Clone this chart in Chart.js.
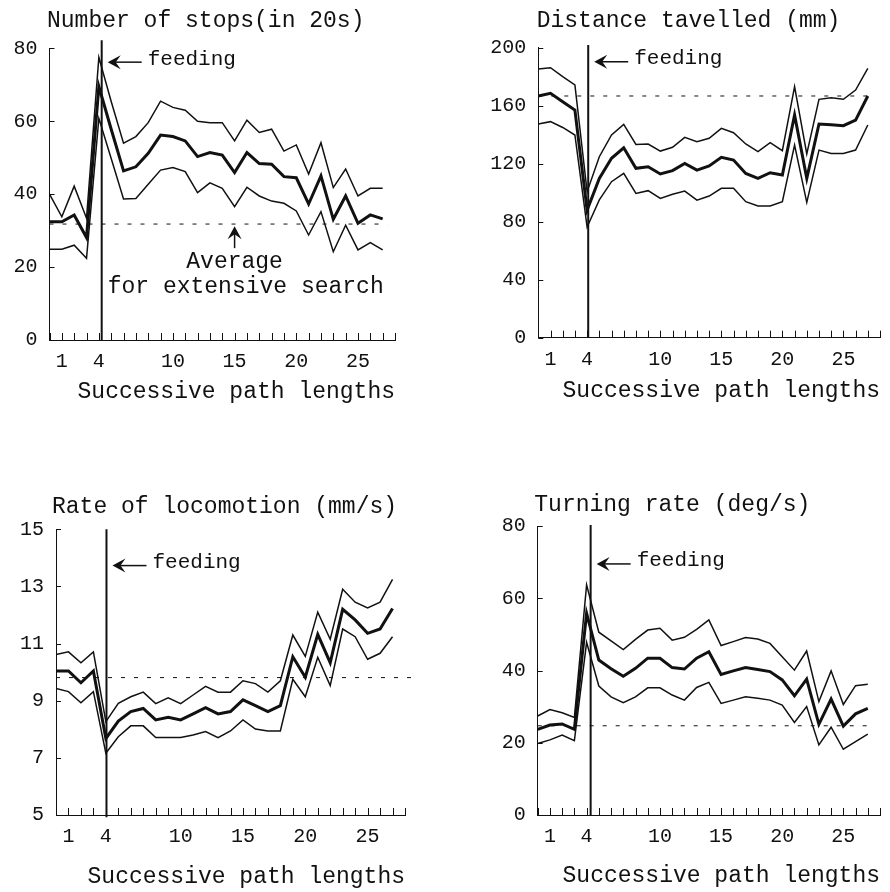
<!DOCTYPE html>
<html>
<head>
<meta charset="utf-8">
<script src="https://cdn.jsdelivr.net/npm/chart.js@4.4.1/dist/chart.umd.min.js"></script>
<style>
  html, body { margin: 0; padding: 0; background: #fff; }
  body { width: 890px; height: 892px; position: relative; overflow: hidden; }
  canvas { position: absolute; }
</style>
</head>
<body>
<canvas id="stopsChart" width="440" height="420" style="left:0;top:0"></canvas>
<canvas id="distChart" width="450" height="420" style="left:440px;top:0"></canvas>
<canvas id="rateChart" width="440" height="452" style="left:0;top:440px"></canvas>
<canvas id="turnChart" width="450" height="452" style="left:440px;top:440px"></canvas>
<script>
// Successive path lengths (x positions) and the few that get a label
const steps = [0, 1, 2, 3, 4, 5, 6, 7, 8, 9, 10, 11, 12, 13, 14, 15, 16, 17, 18, 19, 20, 21, 22, 23, 24, 25, 26, 27];
const xLabels = [1, 4, 10, 15, 20, 25];

// Number of stops (in 20s)
const stopsUpper = [40, 33.8, 42.2, 33.4, 77.5, 65.4, 54, 55.8, 59.6, 65.5, 63.8, 63, 60, 59.6, 59.6, 54.6, 60.3, 56.9, 57.8, 51.8, 53.5, 45.5, 54.1, 41.8, 46.9, 39.5, 41.6, 41.6];
const stopsMean = [32.4, 32.4, 34.3, 28.1, 69.5, 57.8, 46.4, 47.5, 51.2, 56.2, 55.8, 54.6, 50.3, 51.4, 50.7, 45.9, 51.4, 48.4, 48.2, 44.8, 44.5, 37.3, 45, 33.1, 39.5, 32, 34.3, 33.2];
const stopsLower = [24.9, 24.9, 26, 22.4, 60.8, 49.8, 38.7, 38.8, 42.7, 46.6, 47.3, 46.2, 40.4, 43.1, 41.6, 36.6, 41.9, 39.5, 38.1, 37.5, 35.4, 28.8, 35.2, 24.2, 31.5, 24.7, 26.7, 24.7];
const stopsAverage = 31.8;

// Distance travelled (mm)
const distUpper = [185.3, 186.2, 180, 174.3, 100.7, 124.8, 139.8, 147.1, 133.3, 133.6, 128.7, 131.3, 138.2, 135.2, 137.5, 144.4, 141.4, 133.6, 128.3, 134.5, 129, 173.1, 126.7, 164.4, 165.5, 164.4, 170.8, 185.7];
const distMean = [166.7, 168.5, 162.8, 157, 88, 109.9, 123.7, 131, 116.8, 117.9, 112.9, 115.2, 120.2, 115.6, 118.4, 124.4, 122.5, 113.3, 109.9, 113.8, 112.2, 153.6, 109.9, 147.4, 146.9, 146.2, 150.1, 166.7];
const distLower = [147.4, 149, 145, 139.8, 76.3, 95, 107.6, 113.3, 99.5, 101.4, 96.1, 98.9, 101.1, 94.9, 97.7, 103, 103, 93.8, 90.8, 90.8, 93.8, 132.9, 93.3, 129.4, 127.1, 127.1, 129.4, 146.7];
const distAverage = 166.7;

// Rate of locomotion (mm/s)
const rateUpper = [10.62, 10.71, 10.33, 10.71, 8.27, 8.91, 9.14, 9.3, 8.9, 9.1, 8.9, 9.2, 9.5, 9.3, 9.3, 9.7, 9.6, 9.3, 9.7, 11.3, 10.55, 12.1, 11.15, 12.9, 12.45, 12.25, 12.45, 13.25];
const rateMean = [10.04, 10.04, 9.63, 10.04, 7.68, 8.29, 8.62, 8.73, 8.33, 8.42, 8.33, 8.54, 8.76, 8.54, 8.62, 9.03, 8.83, 8.62, 8.83, 10.54, 9.82, 11.32, 10.33, 12.2, 11.83, 11.36, 11.51, 12.23];
const rateLower = [9.43, 9.32, 8.93, 9.32, 7.16, 7.74, 8.12, 8.12, 7.71, 7.71, 7.71, 7.8, 7.92, 7.71, 7.94, 8.33, 8.01, 7.94, 7.94, 9.75, 9.14, 10.52, 9.53, 11.51, 11.24, 10.45, 10.66, 11.24];
const rateAverage = 9.81;

// Turning rate (deg/s)
const turnUpper = [27.4, 29.2, 28.3, 27, 63.7, 50.6, 48.2, 45.8, 48.6, 51.2, 51.7, 48.4, 49.2, 51.4, 54, 46.9, 48, 49.1, 48.7, 47.5, 43.8, 40.1, 45.4, 31.4, 39.9, 30.6, 35.8, 36.2];
const turnMean = [23.7, 24.9, 25.2, 23.7, 55.8, 42.9, 40.5, 38.4, 40.6, 43.4, 43.4, 40.8, 40.4, 43.4, 45.2, 38.9, 39.9, 40.8, 40.3, 39.7, 37.4, 33, 37.6, 25.1, 32.1, 24.6, 28, 29.5];
const turnLower = [19.8, 20.8, 22.1, 20.6, 47.8, 35.7, 32.7, 31.1, 32.7, 35.2, 35.2, 33.2, 31.8, 35.3, 36.7, 30.9, 31.8, 32.7, 32.3, 31.8, 30.4, 25.6, 30, 19.4, 24.3, 18.2, 20.3, 22.4];
const turnAverage = 24.7;

const ink = '#111';
const mono = '"Liberation Mono", "Courier New", monospace';

// one entry per panel: data + axis range + where the notes sit (in data units)
const panels = [
    { id: 'stopsChart', title: 'Number of stops(in 20s)', upper: stopsUpper, mean: stopsMean, lower: stopsLower,
      average: stopsAverage, avgEnd: 27.4, yMin: 0, yMax: 80, yStep: 20,
      feedX: 4.23, feedTop: 82.2, feedBottom: 0, arrowY: 76.2, note: true },
    { id: 'distChart', title: 'Distance tavelled (mm)', upper: distUpper, mean: distMean, lower: distLower,
      average: distAverage, avgEnd: 27.1, yMin: 0, yMax: 200, yStep: 40,
      feedX: 4.09, feedTop: 201.9, feedBottom: 0, arrowY: 190.3 },
    { id: 'rateChart', title: 'Rate of locomotion (mm/s)', upper: rateUpper, mean: rateMean, lower: rateLower,
      average: rateAverage, avgEnd: 28.9, yMin: 5, yMax: 15, yStep: 2,
      feedX: 4.05, feedTop: 15, feedBottom: 4.92, arrowY: 13.73 },
    { id: 'turnChart', title: 'Turning rate (deg/s)', upper: turnUpper, mean: turnMean, lower: turnLower,
      average: turnAverage, avgEnd: 27.4, yMin: 0, yMax: 80, yStep: 20,
      feedX: 4.33, feedTop: 80.3, feedBottom: 0, arrowY: 69.5 }
];

// plot box inside each canvas (canvas pixels)
const frames = {
    stopsChart: { axisLeft: 49.5, plotTop: 48.3, plotRight: 395, plotBottom: 340, titleDx: -2.5, titleDy: -27, xTitlePad: 14 },
    distChart:  { axisLeft: 98.3, plotTop: 47.7, plotRight: 445, plotBottom: 337.7, titleDx: -1.6, titleDy: -27, xTitlePad: 15 },
    rateChart:  { axisLeft: 56, plotTop: 89.3, plotRight: 405, plotBottom: 375, titleDx: -4, titleDy: -22.6, xTitlePad: 1 },
    turnChart:  { axisLeft: 97.7, plotTop: 86, plotRight: 449, plotBottom: 375, titleDx: -3.4, titleDy: -21, xTitlePad: 2 }
};

function arrowHead(ctx, tipX, tipY, dirX, dirY) {
    // concave filled head pointing along (dirX, dirY)
    const px = -dirY, py = dirX;
    ctx.beginPath();
    ctx.moveTo(tipX, tipY);
    ctx.lineTo(tipX - dirX * 13 + px * 7, tipY - dirY * 13 + py * 7);
    ctx.lineTo(tipX - dirX * 8, tipY - dirY * 8);
    ctx.lineTo(tipX - dirX * 13 - px * 7, tipY - dirY * 13 - py * 7);
    ctx.closePath();
    ctx.fill();
}

// title, inward ticks, "feeding" arrow and the extensive-search note
const panelNotes = {
    id: 'panelNotes',
    afterDraw(chart, args, opts) {
        const { ctx, chartArea } = chart;
        const x = chart.scales.x, y = chart.scales.y;
        ctx.save();
        ctx.strokeStyle = ink;
        ctx.fillStyle = ink;
        ctx.lineWidth = 1;

        ctx.beginPath();
        x.ticks.forEach(t => {
            const px = Math.round(x.getPixelForValue(t.value)) + 0.5;
            ctx.moveTo(px, chartArea.bottom);
            ctx.lineTo(px, chartArea.bottom - 7);
        });
        y.ticks.forEach(t => {
            const py = Math.round(y.getPixelForValue(t.value)) + 0.5;
            ctx.moveTo(chartArea.left, py);
            ctx.lineTo(chartArea.left + 5, py);
        });
        ctx.stroke();

        ctx.font = '23px ' + mono;
        ctx.textBaseline = 'middle';
        ctx.textAlign = 'left';
        ctx.fillText(opts.title, chartArea.left + opts.titleDx, chartArea.top + opts.titleDy);

        const vx = x.getPixelForValue(opts.feedX);
        const ay = y.getPixelForValue(opts.arrowY);
        ctx.lineWidth = 1.5;
        ctx.beginPath();
        ctx.moveTo(vx + 12, ay);
        ctx.lineTo(vx + 40, ay);
        ctx.stroke();
        arrowHead(ctx, vx + 6, ay, -1, 0);
        ctx.font = '21px ' + mono;
        ctx.fillText('feeding', vx + 46, ay - 3);

        if (opts.note) {
            const nx = x.getPixelForValue(15);
            ctx.beginPath();
            ctx.moveTo(nx, y.getPixelForValue(25.2));
            ctx.lineTo(nx, y.getPixelForValue(29.5));
            ctx.stroke();
            arrowHead(ctx, nx, y.getPixelForValue(31.2), 0, -1);
            ctx.font = '23px ' + mono;
            ctx.textAlign = 'center';
            ctx.fillText('Average', nx, y.getPixelForValue(21.5));
            ctx.fillText('for extensive search', x.getPixelForValue(15.9), y.getPixelForValue(14.6));
        }
        ctx.restore();
    }
};

function series(values) {
    return steps.map((s, i) => ({ x: s, y: values[i] }));
}

panels.forEach(p => {
    const f = frames[p.id];
    const canvas = document.getElementById(p.id);
    const line = (data, width) => ({
        data: data, borderColor: ink, borderWidth: width, pointRadius: 0, tension: 0, fill: false
    });
    new Chart(canvas.getContext('2d'), {
        type: 'line',
        data: {
            datasets: [
                line(series(p.upper), 1.5),
                line(series(p.mean), 3),
                line(series(p.lower), 1.5),
                Object.assign(line([{ x: 0, y: p.average }, { x: p.avgEnd, y: p.average }], 1),
                    { borderDash: [4, 9], clip: false }),
                Object.assign(line([{ x: p.feedX, y: p.feedBottom }, { x: p.feedX, y: p.feedTop }], 2),
                    { clip: false })
            ]
        },
        options: {
            responsive: false,
            animation: false,
            events: [],
            layout: { padding: { top: f.plotTop, right: canvas.width - f.plotRight, left: 0, bottom: 0 } },
            plugins: {
                legend: { display: false },
                tooltip: { enabled: false },
                panelNotes: { title: p.title, titleDx: f.titleDx, titleDy: f.titleDy,
                              feedX: p.feedX, arrowY: p.arrowY, note: !!p.note }
            },
            scales: {
                x: {
                    type: 'linear', min: 0, max: 28,
                    grid: { display: false, drawTicks: false },
                    border: { color: ink, width: 1 },
                    ticks: {
                        stepSize: 1, autoSkip: false, maxRotation: 0, maxTicksLimit: 40,
                        padding: 10, color: ink, font: { family: mono, size: 20 },
                        callback: v => xLabels.includes(v) ? String(v) : ''
                    },
                    title: {
                        display: true, text: 'Successive path lengths', align: 'end', color: ink,
                        font: { family: mono, size: 23 }, padding: { top: 4, bottom: f.xTitlePad }
                    },
                    afterFit: s => { s.height = canvas.height - f.plotBottom; }
                },
                y: {
                    min: p.yMin, max: p.yMax,
                    grid: { display: false, drawTicks: false },
                    border: { color: ink, width: 1 },
                    ticks: { stepSize: p.yStep, padding: 12, color: ink, font: { family: mono, size: 20 } },
                    afterFit: s => { s.width = f.axisLeft; }
                }
            }
        },
        plugins: [panelNotes]
    });
});
</script>
</body>
</html>
